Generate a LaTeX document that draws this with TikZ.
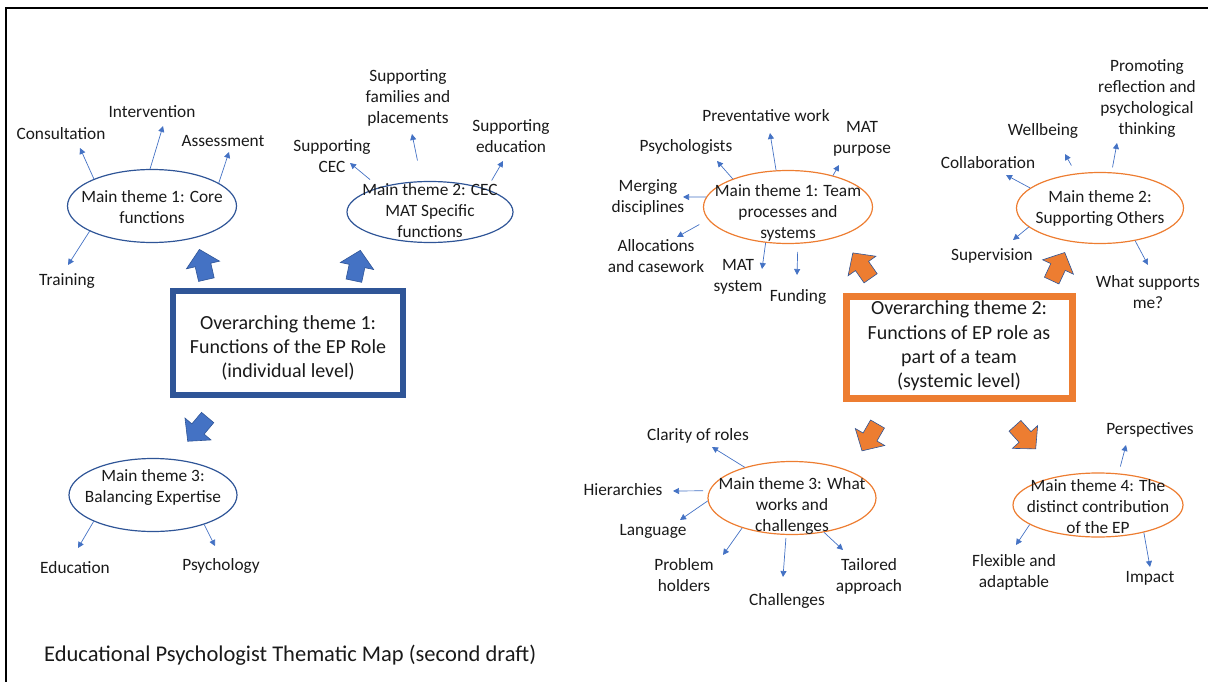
\documentclass[tikz,border=0pt]{standalone}
\usepackage{fontspec}
\setmainfont{Carlito}
\usetikzlibrary{arrows.meta,shapes.geometric}

\definecolor{pblue}{HTML}{4472C4}
\definecolor{dblue}{HTML}{2F5597}
\definecolor{porange}{HTML}{ED7D31}
\definecolor{ink}{HTML}{1A1A1A}

\tikzset{
  lbl/.style={align=center, inner sep=0pt, text=ink, font=\fontsize{17.3}{21}\selectfont},
  boxtxt/.style={align=center, inner sep=0pt, text=ink, font=\fontsize{20}{24.4}\selectfont},
  blueoval/.style={ellipse, draw=dblue, line width=1.2pt, inner sep=0pt},
  orangeoval/.style={ellipse, draw=porange, line width=1.2pt, inner sep=0pt},
  conn/.style={draw=pblue, line width=0.7pt, -{Triangle[length=6pt,width=6pt]}},
  bluebig/.style={fill=pblue, draw=dblue, line width=0.6pt, line join=miter},
  orangebig/.style={fill=porange, draw=dblue, line width=0.6pt, line join=miter},
  bluebox/.style={draw=dblue, line width=6pt},
  orangebox/.style={draw=porange, line width=7pt}
}

% thick block arrow: style, centre, direction angle
\newcommand\blockarrow[3]{%
  \path[#1, shift={(#2)}, rotate=#3]
    (-15,-8) -- (0,-8) -- (0,-17) -- (16,0) -- (0,17) -- (0,8) -- (-15,8) -- cycle;}

\begin{document}
\begin{tikzpicture}[x=1pt, y=-1pt]
\useasboundingbox (0,0) rectangle (1208,682);

% page frame (top and left edges)
\draw[black, line width=1.2pt] (6,682) -- (6,8) -- (1208,8);

% ---------------- Overarching theme 1 ----------------
\draw[bluebox] (173,291) rectangle (403,395);
\node[boxtxt] (ot1) at (288,348) {Overarching theme 1:\\Functions of the EP Role\\(individual level)};

\node[blueoval, minimum width=169pt, minimum height=73pt] (e1) at (152,206) {};
\node[lbl] (e1t) at (152,207) {Main theme 1: Core\\functions};
\node[blueoval, minimum width=166pt, minimum height=61pt] (e2) at (430,212) {};
\node[lbl] (e2t) at (430,211) {Main theme 2: CEC\\MAT Specific\\functions};
\node[blueoval, minimum width=168pt, minimum height=73pt] (e3) at (153,495) {};
\node[lbl] (e3t) at (153,487) {Main theme 3:\\Balancing Expertise};

\blockarrow{bluebig}{203,265}{103}
\blockarrow{bluebig}{357,266}{78}
\blockarrow{bluebig}{198,429}{230}

\node[lbl] (consult) at (61,134) {Consultation};
\node[lbl] (interv) at (152,112) {Intervention};
\node[lbl] (assess) at (223,141) {Assessment};
\node[lbl] (train) at (67,281) {Training};
\node[lbl] (supcec) at (332,156) {Supporting\\CEC};
\node[lbl] (supfam) at (408,98) {Supporting\\families and\\placements};
\node[lbl] (supedu) at (511,136) {Supporting\\education};
\node[lbl] (educ) at (75,568) {Education};
\node[lbl] (psych) at (221,566) {Psychology};

\coordinate (consultE) at (80,148);
\coordinate (intervE) at (163,126);
\coordinate (assessE) at (229,152);
\coordinate (trainE) at (68,265);
\coordinate (supcecE) at (350,163);
\coordinate (supfamE) at (412,134);
\coordinate (supeduE) at (503,161);
\coordinate (educE) at (78,548);
\coordinate (psychE) at (215,546);

\draw[conn] (e1.155) -- (consultE);
\draw[conn] (e1.93) -- (intervE);
\draw[conn] (e1.19) -- (assessE);
\draw[conn] (e1.202) -- (trainE);
\draw[conn, shorten <=12pt] (e2.154) -- (supcecE);
\draw[conn, shorten <=21pt] (e2.105) -- (supfamE);
\draw[conn, shorten <=10pt] (e2.22) -- (supeduE);
\draw[conn] (e3.204) -- (educE);
\draw[conn] (e3.330) -- (psychE);

% ---------------- Overarching theme 2 ----------------
\draw[orangebox] (846.5,296.5) rectangle (1072.5,398.5);
\node[boxtxt] (ot2) at (959,346) {Overarching theme 2:\\Functions of EP role as\\part of a team\\(systemic level)};

\node[orangeoval, minimum width=169pt, minimum height=73pt] (r1) at (788,207) {};
\node[lbl] (r1t) at (788,213) {Main theme 1: Team\\processes and\\systems};
\node[orangeoval, minimum width=167pt, minimum height=71pt] (r2) at (1100,208) {};
\node[lbl] (r2t) at (1100,208) {Main theme 2:\\Supporting Others};
\node[orangeoval, minimum width=168pt, minimum height=73pt] (r3) at (792,498) {};
\node[lbl] (r3t) at (792,506) {Main theme 3: What\\works and\\challenges};
\node[orangeoval, minimum width=170pt, minimum height=64pt] (r4) at (1098,505) {};
\node[lbl] (r4t) at (1098,507) {Main theme 4: The\\distinct contribution\\of the EP};

\blockarrow{orangebig}{862,266}{125}
\blockarrow{orangebig}{1058,267}{65}
\blockarrow{orangebig}{870,437}{240}
\blockarrow{orangebig}{1025,437}{312}

\node[lbl] (prev) at (766,116) {Preventative work};
\node[lbl] (matp) at (862,139) {MAT\\purpose};
\node[lbl] (psygs) at (686,147) {Psychologists};
\node[lbl] (merge) at (648,197) {Merging\\disciplines};
\node[lbl] (alloc) at (656,256) {Allocations\\and casework};
\node[lbl] (mats) at (738,277) {MAT\\system};
\node[lbl] (fund) at (798,297) {Funding};

\node[lbl] (promo) at (1147,99) {Promoting\\reflection and\\psychological\\thinking};
\node[lbl] (well) at (1043,131) {Wellbeing};
\node[lbl] (collab) at (988,163) {Collaboration};
\node[lbl] (superv) at (992,256) {Supervision};
\node[lbl] (whatsup) at (1148,292) {What supports\\me?};

\node[lbl] (clarity) at (698,436) {Clarity of roles};
\node[lbl] (hier) at (623,490) {Hierarchies};
\node[lbl] (lang) at (653,531) {Language};
\node[lbl] (probh) at (684,575) {Problem\\holders};
\node[lbl] (chall) at (787,601) {Challenges};
\node[lbl] (tailor) at (869,576) {Tailored\\approach};

\node[lbl] (persp) at (1150,430) {Perspectives};
\node[lbl] (flex) at (1014,572) {Flexible and\\adaptable};
\node[lbl] (impact) at (1150,578) {Impact};

\coordinate (prevE) at (770,133);
\coordinate (matpE) at (839,165);
\coordinate (psygsE) at (717,161);
\coordinate (mergeE) at (683,197);
\coordinate (allocE) at (677,237);
\coordinate (matsE) at (762,269);
\coordinate (fundE) at (797,275);
\coordinate (promoE) at (1117,143);
\coordinate (wellE) at (1065,154);
\coordinate (collabE) at (1006,175);
\coordinate (supervE) at (1013,240);
\coordinate (whatsupE) at (1148,265);
\coordinate (clarityE) at (712,447);
\coordinate (hierE) at (673,491);
\coordinate (langE) at (680,520);
\coordinate (probhE) at (723,555);
\coordinate (challE) at (783,577);
\coordinate (tailorE) at (843,550);
\coordinate (perspE) at (1126,445);
\coordinate (flexE) at (1016,545);
\coordinate (impactE) at (1150,567);

\draw[conn] (r1.108) -- (prevE);
\draw[conn] (r1.35) -- (matpE);
\draw[conn] (r1.153) -- (psygsE);
\draw[conn] (r1.173) -- (mergeE);
\draw[conn, shorten <=10pt] (r1.189) -- (allocE);
\draw[conn] (r1.238) -- (matsE);
\draw[conn, shorten <=8pt] (r1.285) -- (fundE);

\draw[conn, shorten <=5pt] (r2.72) -- (promoE);
\draw[conn, shorten <=9pt] (r2.125) -- (wellE);
\draw[conn] (r2.164) -- (collabE);
\draw[conn] (r2.195) -- (supervE);
\draw[conn] (r2.317) -- (whatsupE);

\draw[conn] (r3.147) -- (clarityE);
\draw[conn, shorten <=6pt] (r3.175) -- (hierE);
\draw[conn] (r3.182) -- (langE);
\draw[conn] (r3.211) -- (probhE);
\draw[conn, shorten <=3pt] (r3.261) -- (challE);
\draw[conn] (r3.313) -- (tailorE);

\draw[conn, shorten <=7pt] (r4.57) -- (perspE);
\draw[conn] (r4.196) -- (flexE);
\draw[conn] (r4.329) -- (impactE);

% caption
\node[anchor=west, inner sep=0pt, text=ink, font=\fontsize{22.5}{27}\selectfont] (title) at (44,655) {Educational Psychologist Thematic Map (second draft)};
\end{tikzpicture}
\end{document}
